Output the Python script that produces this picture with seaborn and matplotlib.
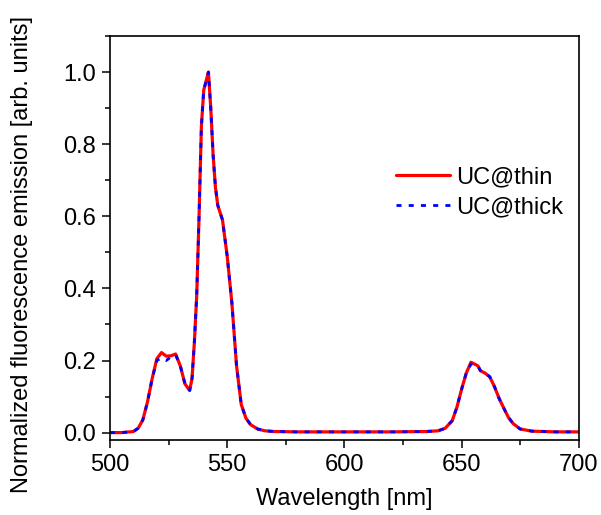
import numpy as np
import pandas as pd
import matplotlib
matplotlib.use('Agg')
import matplotlib.pyplot as plt
from matplotlib.ticker import AutoMinorLocator, MultipleLocator
import seaborn as sns

# emission spectra
wavelength = [500, 505, 510, 512, 514, 516, 518, 520, 522, 524, 526, 528, 530, 532, 534,
              535, 536, 537, 538, 539, 540, 541, 542, 543, 544, 545, 546, 548, 550, 552,
              554, 556, 558, 560, 563, 566, 570, 580, 600, 620, 635, 640, 643, 646, 648,
              650, 652, 654, 655, 657, 658, 660, 662, 664, 666, 668, 670, 672, 675, 680,
              690, 700]
uc_thin = [0.0, 0.0, 0.003, 0.012, 0.035, 0.085, 0.15, 0.205, 0.222, 0.212, 0.213, 0.218, 0.185, 0.135, 0.117,
           0.15, 0.25, 0.38, 0.6, 0.85, 0.95, 0.975, 1.0, 0.9, 0.77, 0.68, 0.63, 0.59, 0.49, 0.36,
           0.185, 0.078, 0.04, 0.022, 0.01, 0.005, 0.003, 0.002, 0.002, 0.002, 0.003, 0.005, 0.012, 0.033, 0.07,
           0.12, 0.165, 0.195, 0.192, 0.185, 0.172, 0.165, 0.155, 0.128, 0.095, 0.068, 0.042, 0.025, 0.01, 0.004,
           0.002, 0.002]
uc_thick = [0.0, 0.0, 0.003, 0.012, 0.035, 0.085, 0.15, 0.2, 0.207, 0.2, 0.21, 0.216, 0.185, 0.135, 0.117,
            0.15, 0.25, 0.38, 0.6, 0.85, 0.95, 0.975, 1.0, 0.9, 0.77, 0.68, 0.63, 0.59, 0.49, 0.36,
            0.185, 0.078, 0.04, 0.022, 0.01, 0.005, 0.003, 0.002, 0.002, 0.002, 0.003, 0.005, 0.012, 0.033, 0.07,
            0.12, 0.165, 0.19, 0.19, 0.185, 0.172, 0.165, 0.155, 0.128, 0.095, 0.068, 0.042, 0.025, 0.01, 0.004,
            0.002, 0.002]
labels = ['UC@thin', 'UC@thick']

sns.set_style('ticks')
plt.rcParams['font.family'] = ['Liberation Sans', 'DejaVu Sans']
plt.rcParams['font.size'] = 17
plt.rcParams['text.color'] = 'black'
plt.rcParams['axes.labelcolor'] = 'black'
plt.rcParams['xtick.color'] = 'black'
plt.rcParams['ytick.color'] = 'black'

df = pd.DataFrame({'wl': wavelength, 'thin': uc_thin, 'thick': uc_thick})

fig = plt.figure(figsize=(6.01, 5.15), dpi=100)
ax = fig.add_axes([0.183, 0.146, 0.780, 0.784])

sns.lineplot(data=df, x='wl', y='thin', ax=ax, color='#ff0000', lw=2.3, label=labels[0])
sns.lineplot(data=df, x='wl', y='thick', ax=ax, color='#0000ff', lw=2.0,
             linestyle=(0, (1.8, 2.6)), label=labels[1])

ax.set_xlim(500, 700)
ax.set_ylim(-0.02, 1.1)
ax.xaxis.set_major_locator(MultipleLocator(50))
ax.xaxis.set_minor_locator(AutoMinorLocator(2))
ax.yaxis.set_major_locator(MultipleLocator(0.2))
ax.yaxis.set_minor_locator(AutoMinorLocator(2))
ax.tick_params(which='major', direction='out', length=6, width=1.1, labelsize=17, color='black', pad=4)
ax.tick_params(which='minor', direction='out', length=3.5, width=1.1, color='black')
for s in ax.spines.values():
    s.set_linewidth(1.2)
    s.set_color('black')

ax.set_xlabel('Wavelength [nm]', fontsize=17, labelpad=9)
ax.set_ylabel('Normalized fluorescence emission [arb. units]', fontsize=17)
ax.yaxis.set_label_coords(-0.165, 0.458)

ax.legend(loc='upper left', bbox_to_anchor=(0.584, 0.707), frameon=False, fontsize=17,
          handlelength=2.3, handletextpad=0.25, labelspacing=0.33, borderpad=0)

fig.savefig('out.png', dpi=100)
